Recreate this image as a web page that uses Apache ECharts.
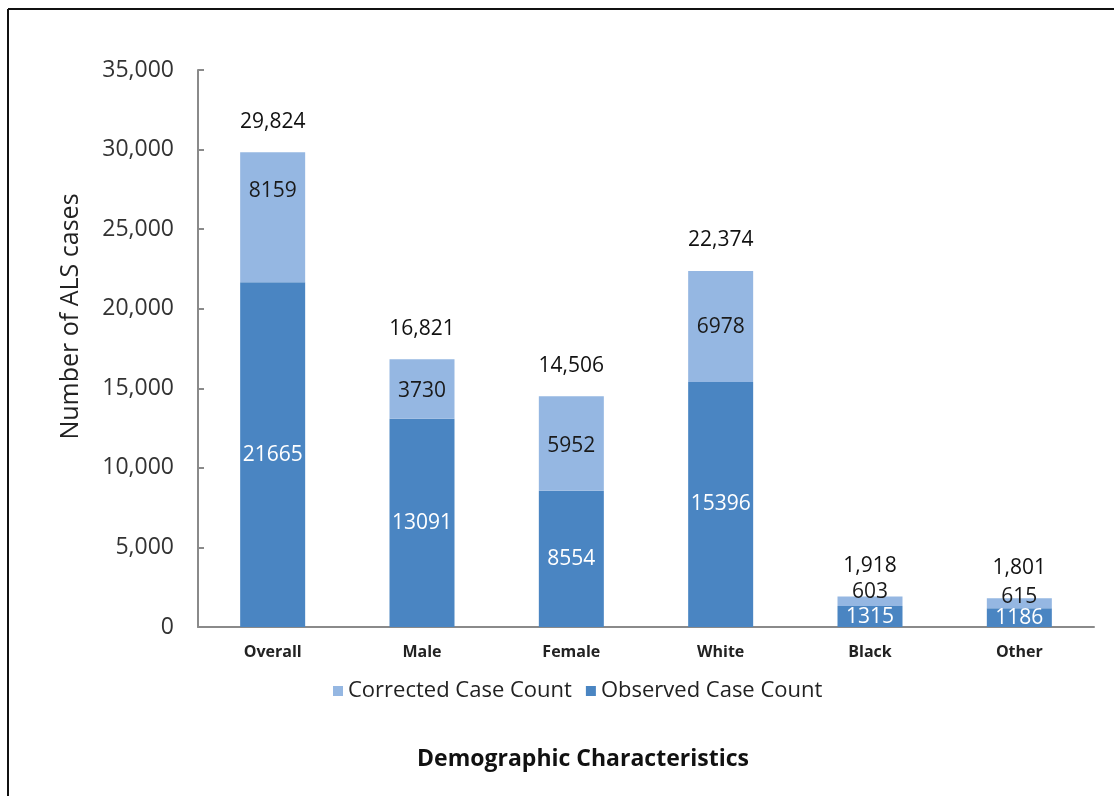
<!DOCTYPE html>
<html>
<head>
<meta charset="utf-8">
<script src="https://cdn.jsdelivr.net/npm/echarts@6/dist/echarts.min.js"></script>
<style>
html,body{margin:0;padding:0;background:#fff;}
#chart{width:1114px;height:796px;}
</style>
</head>
<body>
<div id="chart"></div>
<script>
const categories = ['Overall', 'Male', 'Female', 'White', 'Black', 'Other'];
const observed = [21665, 13091, 8554, 15396, 1315, 1186];
const corrected = [8159, 3730, 5952, 6978, 603, 615];
const totals = [29824, 16821, 14506, 22374, 1918, 1801];
const yTicks = [0, 5000, 10000, 15000, 20000, 25000, 30000, 35000];

const FONT = 'Open Sans';
const chart = echarts.init(document.getElementById('chart'));

// per-item label nudges to mimic original label placement
const correctedOffsets = [[0, -26], [0, 2], [0, 3], [0, 1], [0, -9], [0, -6]];
const correctedData = corrected.map((v, i) => ({
  value: v,
  label: { offset: correctedOffsets[i] }
}));

const option = {
  backgroundColor: '#ffffff',
  animation: false,
  textStyle: { fontFamily: FONT },
  grid: { left: 198, right: 20, top: 70, bottom: 169, containLabel: false },
  legend: {
    data: ['Corrected Case Count', 'Observed Case Count'],
    left: 328,
    top: 675,
    itemWidth: 10,
    itemHeight: 10,
    itemGap: 14,
    icon: 'rect',
    textStyle: { fontFamily: FONT, fontSize: 22, color: '#222' }
  },
  xAxis: {
    type: 'category',
    data: categories,
    name: 'Demographic Characteristics',
    nameLocation: 'middle',
    nameGap: 121,
    nameTextStyle: { fontFamily: FONT, fontSize: 23, fontWeight: 'bold', color: '#111', padding: [0, 126, 0, 0] },
    axisLine: { lineStyle: { color: '#8a8a8a', width: 2 } },
    axisTick: { show: false },
    axisLabel: { fontFamily: FONT, fontSize: 16, fontWeight: 'bold', color: '#222', margin: 17 }
  },
  yAxis: {
    type: 'value',
    min: 0,
    max: 35000,
    interval: 5000,
    name: 'Number of ALS cases',
    nameLocation: 'middle',
    nameGap: 115,
    nameRotate: 90,
    nameTextStyle: { fontFamily: FONT, fontSize: 25, color: '#222', padding: [0, 0, 0, 64] },
    splitLine: { show: false },
    axisLine: { show: true, lineStyle: { color: '#8a8a8a', width: 2 } },
    axisTick: { show: true, inside: true, length: 6, lineStyle: { color: '#8a8a8a', width: 2 } },
    axisLabel: {
      fontFamily: FONT, fontSize: 23, color: '#333', margin: 24,
      formatter: v => yTicks.includes(v) ? v.toLocaleString('en-US') : ''
    }
  },
  series: [
    {
      name: 'Observed Case Count',
      type: 'bar',
      stack: 'total',
      barWidth: 65,
      data: observed,
      itemStyle: { color: '#4a85c2' },
      label: { show: true, position: 'inside', color: '#ffffff', fontFamily: FONT, fontSize: 21 }
    },
    {
      name: 'Corrected Case Count',
      type: 'bar',
      stack: 'total',
      barWidth: 65,
      data: correctedData,
      itemStyle: { color: '#95b7e2' },
      label: { show: true, position: 'inside', color: '#1a1a1a', fontFamily: FONT, fontSize: 21 }
    },
    {
      name: 'Total',
      type: 'bar',
      barWidth: 65,
      barGap: '-100%',
      z: 0,
      data: totals,
      itemStyle: { color: 'rgba(0,0,0,0)' },
      silent: true,
      label: {
        show: true, position: 'top', distance: 20, color: '#111', fontFamily: FONT, fontSize: 21,
        formatter: p => p.value.toLocaleString('en-US')
      }
    }
  ],
  graphic: [
    { type: 'line', shape: { x1: 8, y1: 9, x2: 1114, y2: 9 }, style: { stroke: '#111', lineWidth: 2 } },
    { type: 'line', shape: { x1: 8, y1: 9, x2: 8, y2: 796 }, style: { stroke: '#111', lineWidth: 2 } }
  ]
};
chart.setOption(option);
</script>
</body>
</html>
